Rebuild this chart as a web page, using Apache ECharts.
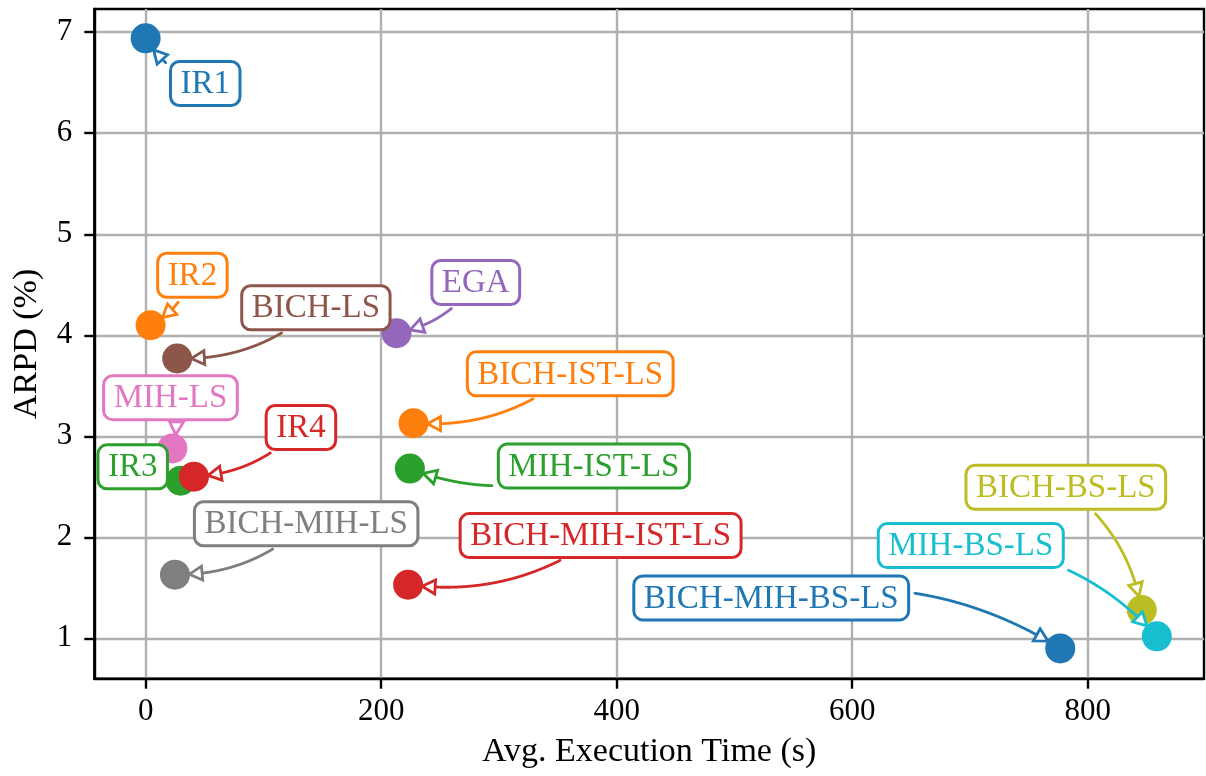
<!DOCTYPE html>
<html>
<head>
<meta charset="utf-8">
<script src="https://cdn.jsdelivr.net/npm/echarts@6/dist/echarts.min.js"></script>
<style>
html,body{margin:0;padding:0;background:#ffffff;}
#chart{width:1206px;height:776px;}
</style>
</head>
<body>
<div id="chart"></div>
<script>
// ---- data ----
const names = ['IR1','IR2','IR3','IR4','EGA','BICH-LS','MIH-LS','BICH-MIH-LS','BICH-BS-LS','MIH-BS-LS','BICH-IST-LS','MIH-IST-LS','BICH-MIH-IST-LS','BICH-MIH-BS-LS'];
const execTime = [0.0, 4.2, 29.7, 41.0, 213.0, 26.8, 22.7, 24.9, 846.0, 858.7, 227.5, 224.4, 222.9, 776.7];
const arpd = [6.94, 4.10, 2.56, 2.60, 4.02, 3.77, 2.88, 1.63, 1.28, 1.02, 3.13, 2.68, 1.53, 0.90];
const xTicks = [0, 200, 400, 600, 800];
const yTicks = [1, 2, 3, 4, 5, 6, 7];

// ---- styles / layout ----
const colors = ['#1f77b4','#ff7f0e','#2ca02c','#d62728','#9467bd','#8c564b','#e377c2','#7f7f7f','#bcbd22','#17becf','#ff7f0e','#2ca02c','#d62728','#1f77b4'];
// label box centre offsets from the point, in pixels
const labelOffsets = [[59.6,45.2],[41.8,-49.9],[-47.9,-13.9],[107,-49.2],[79.3,-50.7],[138.7,-50.7],[-1.9,-50.7],[131.2,-50.9],[-76,-122.8],[-186,-90.7],[156.7,-49.3],[184,-2.5],[192.5,-49.2],[-289,-50.5]];

const SERIF = '"Liberation Serif", "Times New Roman", serif';
const LABEL_FS = 33;
const LABEL_FONT = LABEL_FS + 'px ' + SERIF;
const BEND = 0.2, SHRINK_A = 6, SHRINK_B = 14, HEAD_LEN = 13, HEAD_HW = 7, LW = 2.8;

const mctx = document.createElement('canvas').getContext('2d');
function textWidth(s){ mctx.font = LABEL_FONT; return mctx.measureText(s).width; }
function dist(a,b){ return Math.hypot(a[0]-b[0], a[1]-b[1]); }

function renderAnnotation(params, api){
  const i = params.dataIndex;
  const p = api.coord([api.value(0), api.value(1)]);
  const off = labelOffsets[i];
  const c = [p[0]+off[0], p[1]+off[1]];
  const col = colors[i];
  const bw = textWidth(names[i]) + 20, bh = 44;
  const bx = c[0]-bw/2, by = c[1]-bh/2;
  const dx = p[0]-c[0], dy = p[1]-c[1];
  const cp = [(c[0]+p[0])/2 + BEND*dy, (c[1]+p[1])/2 - BEND*dx];
  const N = 600, pts = [];
  for (let k=0;k<=N;k++){
    const t=k/N, u=1-t;
    pts.push([u*u*c[0]+2*u*t*cp[0]+t*t*p[0], u*u*c[1]+2*u*t*cp[1]+t*t*p[1]]);
  }
  const inside = q => q[0]>=bx && q[0]<=bx+bw && q[1]>=by && q[1]<=by+bh;
  let s0 = 0; while (s0<N && inside(pts[s0])) s0++;
  let s = s0;
  while (s<N && dist(pts[s], pts[s0]) < SHRINK_A) s++;
  let e = N; while (e>s0 && dist(pts[e], p) < SHRINK_B) e--;
  const tip = pts[e];
  let k = e; while (k>s0 && dist(pts[k], tip) < HEAD_LEN) k--;
  const children = [];
  if (e > s0 && dist(tip, pts[s0]) > HEAD_LEN*0.7) {
    const base = pts[k];
    const L = dist(base, tip);
    const ux = (tip[0]-base[0])/L, uy = (tip[1]-base[1])/L;
    if (k > s) {
      children.push({type:'polyline', shape:{points:pts.slice(s, k+1)}, style:{stroke:col, lineWidth:LW, fill:null, lineCap:'round'}});
    }
    const bb = [tip[0]-ux*HEAD_LEN, tip[1]-uy*HEAD_LEN];
    children.push({type:'polygon', shape:{points:[tip,[bb[0]-uy*HEAD_HW, bb[1]+ux*HEAD_HW],[bb[0]+uy*HEAD_HW, bb[1]-ux*HEAD_HW]]},
      style:{fill:'#ffffff', stroke:col, lineWidth:LW, lineJoin:'miter'}});
  }
  children.push({type:'rect', shape:{x:bx, y:by, width:bw, height:bh, r:9}, style:{fill:'#ffffff', stroke:col, lineWidth:3}});
  children.push({type:'text', style:{text:names[i], x:c[0], y:c[1]+1, fill:col, font:LABEL_FONT,
    align:'center', verticalAlign:'middle', textAlign:'center', textVerticalAlign:'middle'}});
  return {type:'group', children};
}

const points = execTime.map((x,i)=>({value:[x, arpd[i]], itemStyle:{color:colors[i]}}));
const annData = execTime.map((x,i)=>[x, arpd[i]]);

const chart = echarts.init(document.getElementById('chart'), null, {renderer:'canvas'});
chart.setOption({
  animation:false,
  backgroundColor:'#ffffff',
  grid:{left:94.3, right:2, top:9, bottom:97.3, show:true, borderColor:'#000', borderWidth:2.4, backgroundColor:'transparent'},
  xAxis:{
    type:'value', min:-43.6, max:898.8,
    name:'Avg. Execution Time (s)', nameLocation:'middle', nameGap:56,
    nameTextStyle:{fontFamily:SERIF, fontSize:34, color:'#000'},
    axisLine:{onZero:false, lineStyle:{color:'#000', width:2.4}},
    axisTick:{show:true, customValues:xTicks, length:10, lineStyle:{color:'#000', width:2.4}},
    axisLabel:{customValues:xTicks, fontFamily:SERIF, fontSize:31, color:'#000', margin:18},
    splitLine:{show:true, lineStyle:{color:'#b0b0b0', width:2.4}}
  },
  yAxis:{
    type:'value', min:0.6, max:7.23,
    name:'ARPD (%)', nameLocation:'middle', nameGap:50,
    nameTextStyle:{fontFamily:SERIF, fontSize:34, color:'#000'},
    axisLine:{onZero:false, lineStyle:{color:'#000', width:2.4}},
    axisTick:{show:true, customValues:yTicks, length:10, lineStyle:{color:'#000', width:2.4}},
    axisLabel:{customValues:yTicks, fontFamily:SERIF, fontSize:31, color:'#000', margin:22},
    splitLine:{show:true, lineStyle:{color:'#b0b0b0', width:2.4}}
  },
  series:[
    {type:'scatter', data:points, symbol:'circle', symbolSize:30, z:2, itemStyle:{opacity:1}},
    {type:'custom', data:annData, encode:{x:0, y:1}, renderItem:renderAnnotation, clip:false, z:3, silent:true}
  ]
});
</script>
</body>
</html>
